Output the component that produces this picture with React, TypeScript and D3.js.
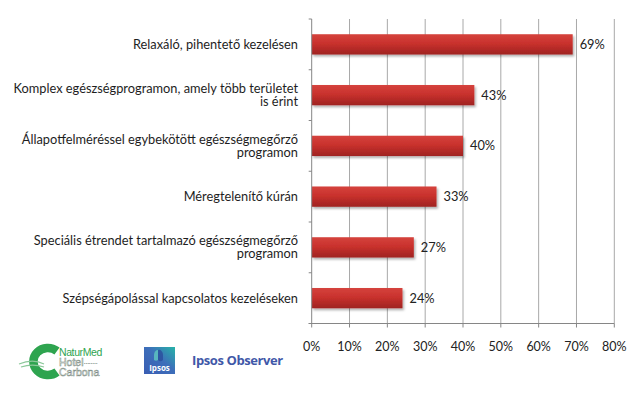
import React from 'react'
import { scaleLinear, scaleBand, range } from 'd3'

const categories = [
  'Relaxáló, pihentető kezelésen',
  'Komplex egészségprogramon, amely több területet is érint',
  'Állapotfelméréssel egybekötött egészségmegőrző programon',
  'Méregtelenítő kúrán',
  'Speciális étrendet tartalmazó egészségmegőrző programon',
  'Szépségápolással kapcsolatos kezeléseken',
]
const labelLines = [
  ['Relaxáló, pihentető kezelésen'],
  ['Komplex egészségprogramon, amely több területet', 'is érint'],
  ['Állapotfelméréssel egybekötött egészségmegőrző', 'programon'],
  ['Méregtelenítő kúrán'],
  ['Speciális étrendet tartalmazó egészségmegőrző', 'programon'],
  ['Szépségápolással kapcsolatos kezeléseken'],
]
const values = [0.69, 0.43, 0.40, 0.33, 0.27, 0.24]
const xTicks = [0, 0.1, 0.2, 0.3, 0.4, 0.5, 0.6, 0.7, 0.8]

const W = 634
const H = 393
const font = 'Lato, "Open Sans", sans-serif'
const logoFont = '"Liberation Sans", Arial, sans-serif'

const App = () => {
  const x = scaleLinear().domain([0, 0.8]).range([311.7, 614.3])
  const y = scaleBand<string>()
    .domain(categories)
    .range([19, 323.5])
    .paddingInner(0.6)
    .paddingOuter(0.3)
  const [y0, y1] = y.range()
  const step = y.step()
  const bounds = range(categories.length + 1).map(i => y0 + i * step)
  const pct = (v: number) => Math.round(v * 100) + '%'

  return (
    <svg width={W} height={H} style={{ position: 'absolute', left: 0, top: 0, background: '#fff' }}>
      <defs>
        <linearGradient id="barFill" x1="0" y1="0" x2="0" y2="1">
          <stop offset="0%" stopColor="#d5433d" />
          <stop offset="45%" stopColor="#c9312d" />
          <stop offset="100%" stopColor="#9f2321" />
        </linearGradient>
        <filter id="shadow" x="-5%" y="-30%" width="110%" height="170%">
          <feDropShadow dx="1.5" dy="2" stdDeviation="1.2" floodColor="#000" floodOpacity="0.3" />
        </filter>
        <linearGradient id="ipsosFill" x1="0" y1="1" x2="1" y2="0">
          <stop offset="0%" stopColor="#3a5db3" />
          <stop offset="55%" stopColor="#3d6fba" />
          <stop offset="100%" stopColor="#27b3a8" />
        </linearGradient>
      </defs>

      {/* vertical gridlines */}
      {xTicks.slice(1).map(t => (
        <line key={'g' + t} x1={x(t)} x2={x(t)} y1={y0} y2={y1} stroke="#a8a8a8" strokeWidth={1} />
      ))}

      {/* bars */}
      {categories.map((c, i) => (
        <rect
          key={c}
          x={x(0)}
          y={y(c)}
          width={x(values[i]) - x(0)}
          height={y.bandwidth()}
          fill="url(#barFill)"
          filter="url(#shadow)"
        />
      ))}

      {/* axes */}
      <line x1={x(0)} x2={x(0)} y1={y0} y2={y1} stroke="#868686" />
      {bounds.map(b => (
        <line key={'yt' + b} x1={x(0) - 3} x2={x(0)} y1={b} y2={b} stroke="#868686" />
      ))}
      <line x1={x(0) - 3} x2={x(0.8)} y1={y1} y2={y1} stroke="#868686" />
      {xTicks.map(t => (
        <g key={'xt' + t}>
          <line x1={x(t)} x2={x(t)} y1={y1} y2={y1 + 4} stroke="#868686" />
          <text x={x(t)} y={y1 + 27} textAnchor="middle" fontFamily={font} fontSize={12.5} fill="#222">
            {pct(t)}
          </text>
        </g>
      ))}

      {/* category labels */}
      {categories.map((c, i) => {
        const lines = labelLines[i]
        const cy = (y(c) as number) + y.bandwidth() / 2
        const lh = 13
        const start = cy - ((lines.length - 1) * lh) / 2
        return (
          <text key={'l' + c} x={298} textAnchor="end" fontFamily={font} fontSize={12.8} fill="#1e1e1e">
            {lines.map((ln, j) => (
              <tspan key={j} x={298} y={start + j * lh} dy="0.35em">{ln}</tspan>
            ))}
          </text>
        )
      })}

      {/* value labels */}
      {categories.map((c, i) => (
        <text
          key={'v' + c}
          x={x(values[i]) + 7}
          y={(y(c) as number) + y.bandwidth() / 2}
          dy="0.35em"
          fontFamily={font}
          fontSize={12.8}
          fill="#222"
        >
          {pct(values[i])}
        </text>
      ))}

      {/* NaturMed Hotel Carbona logo */}
      <g>
        <path
          d="M57,351 A14.5,13.5 0 1 0 57,372"
          fill="none"
          stroke="#2ea44f"
          strokeWidth={8.5}
        />
        <path d="M19,364 C29,360 38,361 44,364" fill="none" stroke="#8cc89a" strokeWidth={1.2} />
        <path d="M21,367 C30,364 38,365 44,367" fill="none" stroke="#8cc89a" strokeWidth={1.2} />
        <text x={59} y={355.5} fontFamily={logoFont} fontSize={10.5} fill="#2ea44f" letterSpacing={-0.4}>NaturMed</text>
        <text x={59} y={365.5} fontFamily={logoFont} fontSize={10.5} fill="#fff" stroke="#7a8a7f" strokeWidth={0.5}>Hotel</text>
        <text x={84} y={365} fontFamily={logoFont} fontSize={4} fill="#7a8a7f" letterSpacing={0.3}>••••••••</text>
        <text x={59} y={375.5} fontFamily={logoFont} fontSize={10.5} fill="#fff" stroke="#7a8a7f" strokeWidth={0.5}>Carbona</text>
      </g>

      {/* Ipsos logo */}
      <g>
        <rect x={144} y={347} width={31} height={27} fill="url(#ipsosFill)" />
        <path d="M158,350 a4,5 0 0 1 5,5 v5 a4,5 0 0 1 -5,0 z" fill="#2a4d9c" opacity={0.8} />
        <path d="M158,350 a4,5 0 0 0 -4,5 v5 a4,5 0 0 0 4,0 z" fill="#5fc7c0" opacity={0.8} />
        <text x={159.5} y={371} textAnchor="middle" fontFamily='"Open Sans", sans-serif' fontWeight="bold" fontSize={8} fill="#fff">Ipsos</text>
        <text x={192} y={365} fontFamily='"Open Sans", sans-serif' fontWeight="bold" fontSize={13} fill="#3f58a8" letterSpacing={-0.4}>Ipsos Observer</text>
      </g>
    </svg>
  )
}

export default App
